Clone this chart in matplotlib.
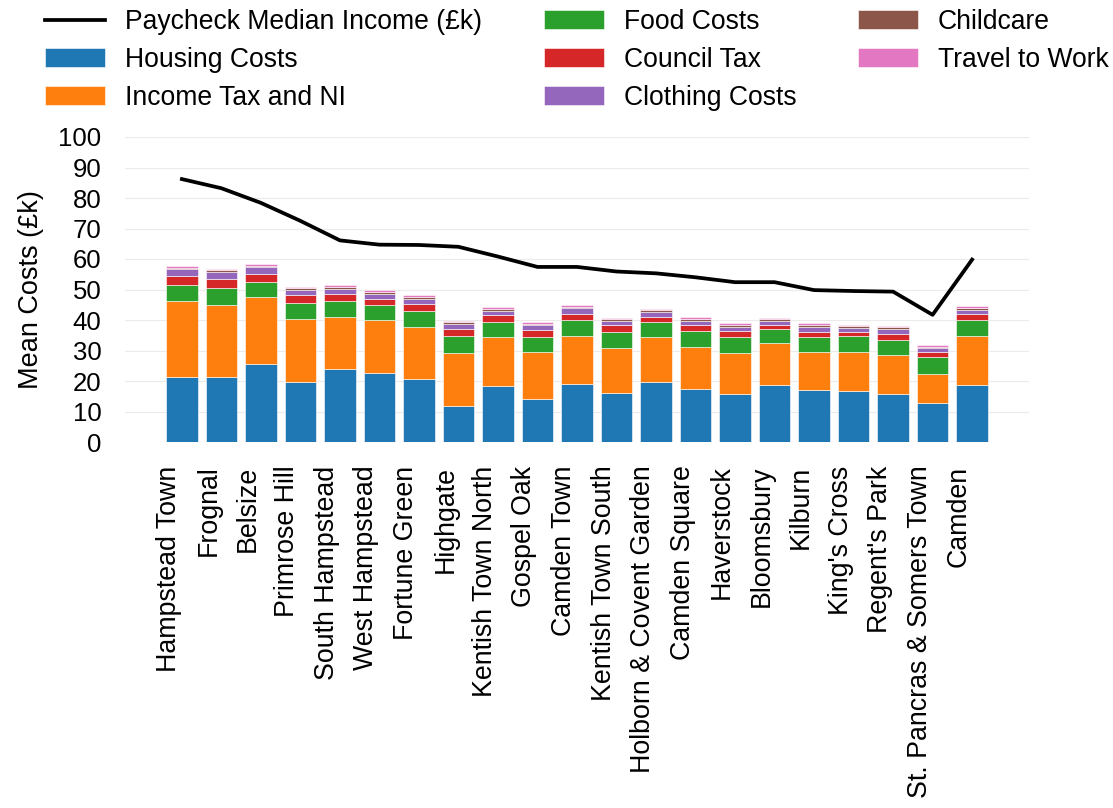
import numpy as np
import matplotlib
matplotlib.use("Agg")
import matplotlib.pyplot as plt

plt.rcParams["font.family"] = ["Liberation Sans", "DejaVu Sans"]
plt.rcParams["font.size"] = 19.5

wards = ["Hampstead Town", "Frognal", "Belsize", "Primrose Hill", "South Hampstead",
         "West Hampstead", "Fortune Green", "Highgate", "Kentish Town North",
         "Gospel Oak", "Camden Town", "Kentish Town South", "Holborn & Covent Garden",
         "Camden Square", "Haverstock", "Bloomsbury", "Kilburn", "King's Cross",
         "Regent's Park", "St. Pancras & Somers Town", "Camden"]

income = [86.2, 83.2, 78.4, 72.5, 66.1, 64.7, 64.6, 64.0, 60.8, 57.4, 57.4,
          55.9, 55.3, 54.0, 52.4, 52.4, 49.8, 49.5, 49.3, 41.7, 59.8]

housing = [21.2, 21.2, 25.7, 19.8, 23.8, 22.7, 20.5, 11.7, 18.4, 14.2, 19.1,
           16.2, 19.7, 17.3, 15.8, 18.7, 16.9, 16.7, 15.8, 12.9, 18.6]
tax = [24.9, 23.7, 21.8, 20.5, 17.3, 17.2, 17.2, 17.5, 16.1, 15.4, 15.6,
       14.7, 14.7, 13.9, 13.4, 13.6, 12.6, 12.8, 12.6, 9.5, 16.0]
food = [5.3, 5.7, 5.1, 5.4, 5.0, 5.0, 5.3, 5.5, 5.0, 4.9, 5.3,
        5.2, 4.9, 5.2, 5.3, 4.7, 5.0, 5.1, 5.2, 5.5, 5.3]
council = [2.9, 2.9, 2.6, 2.5, 2.3, 2.0, 2.1, 2.2, 2.1, 2.2, 2.1,
           2.1, 1.8, 1.9, 1.8, 1.5, 1.7, 1.4, 1.9, 1.6, 2.0]
clothing = [2.3, 2.2, 2.1, 1.6, 1.7, 1.6, 1.7, 1.7, 1.5, 1.6, 1.8,
            1.4, 1.6, 1.5, 1.4, 1.3, 1.5, 1.4, 1.4, 1.3, 1.5]
childcare = [0.6, 0.6, 0.5, 0.6, 0.8, 0.7, 0.7, 0.6, 0.6, 0.5, 0.5,
             0.6, 0.5, 0.6, 0.7, 0.4, 0.7, 0.6, 0.7, 0.5, 0.6]
travel = [0.4, 0.5, 0.4, 0.5, 0.6, 0.6, 0.6, 0.5, 0.5, 0.5, 0.4,
          0.5, 0.4, 0.5, 0.6, 0.4, 0.6, 0.5, 0.5, 0.5, 0.5]

series = [("Housing Costs", housing, "#1f77b4"),
          ("Income Tax and NI", tax, "#ff7f0e"),
          ("Food Costs", food, "#2ca02c"),
          ("Council Tax", council, "#d62728"),
          ("Clothing Costs", clothing, "#9467bd"),
          ("Childcare", childcare, "#8c564b"),
          ("Travel to Work", travel, "#e377c2")]

fig = plt.figure(figsize=(11.13, 8.08), dpi=100)
ax = fig.add_axes([125 / 1113, 1 - 442 / 808, (1029 - 125) / 1113, (442 - 137) / 808])

x = np.arange(len(wards))
line, = ax.plot(x, income, color="black", lw=2.7, label="Paycheck Median Income (£k)")
bottom = np.zeros(len(wards))
bars = []
for name, vals, col in series:
    b = ax.bar(x, vals, 0.8, bottom=bottom, color=col, label=name,
               edgecolor="white", linewidth=0.4)
    bars.append(b)
    bottom += np.array(vals)

ax.set_ylim(0, 100)
ax.set_yticks(np.arange(0, 101, 10))
ax.set_xticks(x)
ax.set_xticklabels(wards, rotation=90, ha="right", fontsize=19.3)
ax.tick_params(axis="y", labelsize=18.5, pad=17, length=0)
ax.tick_params(axis="x", pad=17, length=0)
ax.set_ylabel("Mean Costs (£k)")
ax.yaxis.set_label_coords(-0.09, 0.5)
ax.grid(axis="y", color="#ebebeb", lw=0.8)
ax.set_axisbelow(True)
for s in ax.spines.values():
    s.set_visible(False)

fig.legend(handles=[line] + bars, ncol=3, loc="upper left",
           bbox_to_anchor=(45 / 1113, 1 - 9 / 808), frameon=False, fontsize=19.1,
           handlelength=2.25, handletextpad=0.75, columnspacing=2.35,
           labelspacing=0.45, borderpad=0, borderaxespad=0)

fig.savefig("out.png", dpi=100)
